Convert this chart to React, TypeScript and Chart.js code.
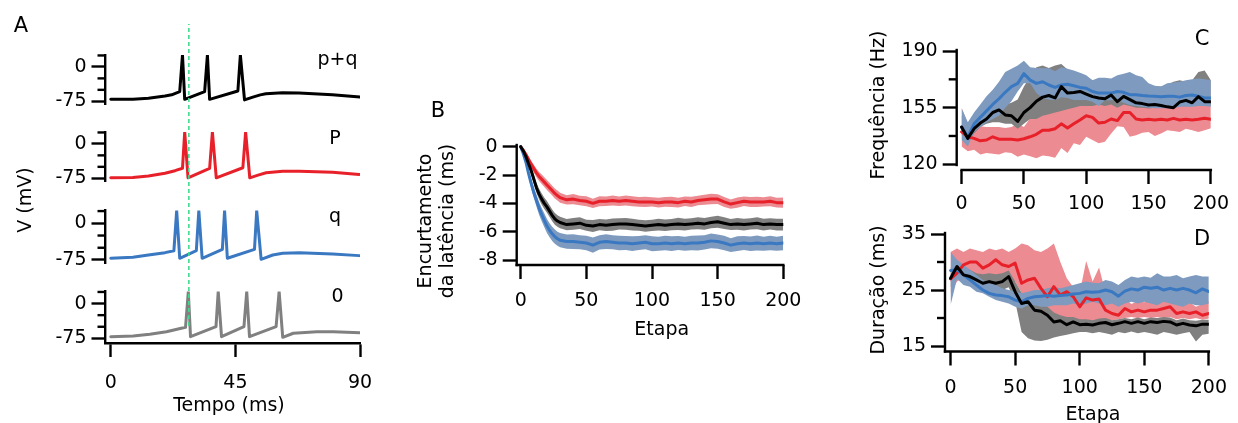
import React, { useEffect, useRef } from "react";
import { Chart, registerables } from "chart.js";
Chart.register(...registerables);

const W = 1238;
const H = 423;
const FONT = "'DejaVu Sans', 'Liberation Sans', sans-serif";
const FS = 19;
const LETTER_FS = 21;
const AX_W = 2.4;

const BLACK = "#000000";
const RED = "#e8202a";
const BLUE = "#3a78c1";
const GRAY = "#808080";
const RED_BAND = "#ec8b91";
const BLUE_BAND = "#7e9bbf";
const GRAY_BAND = "#808080";
const GREEN = "#3ddc8c";

// ---------------- Panel A: voltage traces ----------------
const A_X_TICKS = [0, 45, 90];
const A_Y_TICKS = [-75, 0];
const A_Y_MINOR = [25, -25, -50];
const GUIDE_TIME = 28.2;

const PQ_T = [0, 8, 13.6, 19.6, 22, 24.9, 25.9, 26.7, 33.9, 34.9, 35.7, 45.9, 46.8, 48.3, 51.3, 54, 56, 62, 68, 80, 90];
const PQ_V = [-70.7, -70.5, -68.5, -63.5, -60.8, -54, 26, -70.7, -54, 26, -70.7, -52.5, 26, -72, -65.9, -61, -58.6, -56.5, -57, -60.8, -65.9];

const P_T = [0, 8, 13.6, 19.6, 23.2, 25.9, 26.7, 27.9, 35.7, 36.7, 38.1, 47.7, 48.7, 50.2, 53.2, 56.1, 62.1, 68.1, 80.1, 89.7];
const P_V = [-74, -73.5, -70, -64, -58.4, -53.2, 26, -74, -53.2, 26, -74, -52, 26, -74, -68, -63, -59.5, -59.5, -61.6, -66.6];

const Q_T = [0, 8, 13.6, 19.6, 22.8, 23.8, 24.9, 30.9, 31.8, 33.0, 40.3, 41.1, 42.1, 51.9, 52.7, 54.3, 58.5, 62.1, 68.1, 80.1, 89.7];
const Q_V = [-71.5, -69.5, -64.8, -60, -56, 26, -71.5, -56, 26, -71.5, -53.2, 26, -71.5, -53.2, 26, -73.6, -64.8, -61.3, -60, -62.7, -66.1];

const Z_T = [0, 8.1, 14.1, 20.1, 27.0, 28.0, 28.8, 38.0, 38.8, 40.0, 48.1, 49.1, 50.1, 59.7, 60.8, 62.1, 65.9, 74.4, 80.4, 90];
const Z_V = [-71.4, -69.9, -66.3, -60.6, -51.2, 26, -71.4, -49.8, 26, -71.4, -49.8, 26, -71.4, -49.8, 26, -72.7, -64, -60.6, -60.6, -62.8];

// ---------------- Panel B: latency shortening ----------------
const STEP_TICKS = [0, 50, 100, 150, 200];
const B_Y_TICKS = [-8, -6, -4, -2, 0];
const B_X = [0, 2, 4, 6, 8, 10, 12, 14, 16, 18, 20, 22, 24, 26, 28, 30, 35, 40, 45, 50, 55, 60, 65, 70, 75, 80, 85, 90, 95, 100, 105, 110, 115, 120, 125, 130, 135, 140, 145, 150, 155, 160, 165, 170, 175, 180, 185, 190, 195, 200];
const B_RED = [0, -0.25, -0.55, -0.9, -1.25, -1.55, -1.85, -2.1, -2.3, -2.5, -2.7, -2.9, -3.1, -3.3, -3.45, -3.6, -3.75, -3.7, -3.8, -3.85, -4.0, -3.85, -3.85, -3.8, -3.85, -3.8, -3.85, -3.9, -3.9, -3.9, -3.95, -3.9, -3.9, -3.95, -3.85, -3.9, -3.8, -3.75, -3.7, -3.7, -3.9, -4.05, -3.95, -3.85, -3.9, -3.9, -3.9, -3.85, -3.95, -3.95];
const B_BLACK = [0, -0.3, -0.7, -1.2, -1.7, -2.3, -2.9, -3.35, -3.7, -4.0, -4.25, -4.55, -4.85, -5.1, -5.25, -5.35, -5.5, -5.45, -5.4, -5.55, -5.6, -5.5, -5.55, -5.5, -5.45, -5.45, -5.5, -5.55, -5.6, -5.55, -5.5, -5.55, -5.5, -5.45, -5.5, -5.45, -5.4, -5.45, -5.35, -5.3, -5.4, -5.5, -5.45, -5.5, -5.45, -5.4, -5.5, -5.45, -5.5, -5.5];
const B_BLUE = [0, -0.5, -1.1, -1.9, -2.6, -3.25, -3.8, -4.35, -4.8, -5.2, -5.6, -5.9, -6.15, -6.35, -6.5, -6.6, -6.7, -6.7, -6.75, -6.8, -6.95, -6.75, -6.7, -6.75, -6.8, -6.8, -6.85, -6.8, -6.75, -6.85, -6.85, -6.8, -6.85, -6.8, -6.85, -6.8, -6.8, -6.75, -6.65, -6.7, -6.8, -6.95, -6.85, -6.8, -6.85, -6.8, -6.85, -6.8, -6.85, -6.8];
const B_RED_ERR = [0, 0.08, 0.14, 0.2, 0.25, 0.28, 0.3, 0.32, 0.33, 0.34, 0.35, 0.35, 0.35, 0.35, 0.35, 0.35, 0.33, 0.36, 0.34, 0.35, 0.33, 0.36, 0.34, 0.35, 0.33, 0.36, 0.35, 0.34, 0.36, 0.33, 0.35, 0.34, 0.36, 0.35, 0.33, 0.36, 0.34, 0.35, 0.37, 0.34, 0.35, 0.33, 0.36, 0.34, 0.35, 0.36, 0.33, 0.35, 0.34, 0.36];
const B_BLACK_ERR = [0, 0.08, 0.15, 0.22, 0.28, 0.32, 0.36, 0.38, 0.4, 0.4, 0.41, 0.41, 0.41, 0.41, 0.41, 0.41, 0.4, 0.42, 0.41, 0.39, 0.42, 0.4, 0.41, 0.43, 0.4, 0.41, 0.42, 0.39, 0.41, 0.4, 0.42, 0.41, 0.4, 0.43, 0.41, 0.4, 0.42, 0.41, 0.4, 0.43, 0.41, 0.39, 0.42, 0.41, 0.4, 0.42, 0.41, 0.4, 0.42, 0.41];
const B_BLUE_ERR = [0, 0.1, 0.18, 0.26, 0.33, 0.38, 0.42, 0.45, 0.47, 0.49, 0.5, 0.5, 0.5, 0.5, 0.5, 0.5, 0.5, 0.52, 0.49, 0.51, 0.53, 0.5, 0.52, 0.49, 0.51, 0.5, 0.52, 0.5, 0.49, 0.53, 0.5, 0.51, 0.52, 0.5, 0.49, 0.51, 0.53, 0.5, 0.52, 0.5, 0.51, 0.49, 0.52, 0.5, 0.51, 0.53, 0.5, 0.52, 0.5, 0.51];

// ---------------- Panel C: frequency ----------------
const C_Y_TICKS = [120, 155, 190];
const C_Y_MINOR = [137.5, 172.5];
const CD_X = [0, 5, 10, 15, 20, 25, 30, 35, 40, 45, 50, 55, 60, 65, 70, 75, 80, 85, 90, 95, 100, 105, 110, 115, 120, 125, 130, 135, 140, 145, 150, 155, 160, 165, 170, 175, 180, 185, 190, 195, 200];
const C_BLUE = [143, 137, 145, 149, 153, 157, 160.5, 164.5, 168, 170, 176, 172, 170, 171, 169, 167.5, 169, 169.5, 168.5, 167.5, 167, 165, 164, 164, 164, 165, 164.5, 163, 163, 162.5, 162.2, 162, 161.8, 162, 162, 161.5, 162.5, 162.8, 162, 161, 161];
const C_BLUE_HI = [154.6, 146, 152, 157, 162, 166, 171, 177, 179, 181, 184, 180, 179.5, 179.3, 179.3, 177.5, 180, 179, 178, 176.5, 175, 172, 173.5, 173.5, 173, 175, 176, 177, 175, 174, 170, 168.5, 168, 170, 170.5, 171, 172, 172.5, 173, 172.5, 172];
const C_BLUE_LO = [135, 131, 140, 143, 146, 148, 150, 155, 159, 165, 170, 170, 164, 161, 160, 159.7, 161.5, 161, 159.7, 159.7, 159.7, 158.7, 156, 159.5, 159.5, 159.7, 158, 156.6, 156, 155.6, 155, 154.6, 154.6, 154.6, 154.6, 155.6, 155.6, 155.6, 156, 156, 155.6];
const C_BLACK = [143, 136, 142, 145.5, 148, 152, 153.6, 150.5, 150, 146.5, 152, 155, 159, 161.5, 162.5, 161, 168, 164, 164.3, 165, 163.4, 161.8, 161, 160.5, 162.8, 158.7, 162, 160, 158, 157.5, 156.6, 157, 156.3, 155.5, 155, 158.5, 159.5, 158, 161.8, 158.7, 158.7];
const C_GRAY_HI = [150, 143, 148, 151, 154, 157, 158, 157, 158, 160, 168, 174, 180, 181, 179.5, 181, 182, 178.5, 177, 175, 174, 172, 172, 171, 171, 172, 173, 172, 170, 169, 168, 168, 168, 169, 171, 172, 171, 172, 177, 178, 172];
const C_GRAY_LO = [138, 133, 139, 143, 145, 146, 146, 145, 145, 142, 145, 148, 148, 150, 151, 152, 153, 154, 155, 156, 156, 156, 157, 156, 157, 155, 157, 156, 155, 155, 154.5, 155, 155, 155, 155, 156, 156, 156, 157, 156, 156];
const C_RED = [140, 137, 136, 134.5, 135, 137, 135.5, 135.5, 135.5, 135, 135.8, 137, 138.5, 141, 141, 142, 145, 142.5, 145, 147.4, 150, 149, 145.5, 146, 148, 147, 152, 152, 148, 147.4, 147.8, 147.4, 147.8, 147.4, 148.4, 147.4, 147.8, 147.4, 147.8, 148.4, 147.8];
const C_RED_HI = [155, 145.3, 144.3, 143.5, 143, 143, 143, 142.5, 143, 145, 143, 148.4, 154.6, 152.5, 155, 157.7, 160, 161.8, 161, 160.8, 161.8, 162, 162, 161.5, 162, 162, 161.5, 162, 161.5, 161, 161, 160.5, 160.5, 160, 160, 160, 160, 160, 160, 160, 160];
const C_RED_LO = [131, 128, 129, 126, 127, 126.5, 126, 127.5, 127, 124.7, 126, 125, 123.7, 125.5, 125, 124, 130, 127, 133, 132, 137, 135, 133, 134, 139, 143.5, 143, 137, 138, 139.5, 140, 137.5, 139, 141, 140.5, 140, 142, 141, 140, 141, 142.2];

// ---------------- Panel D: duration ----------------
const D_Y_TICKS = [15, 25, 35];
const D_Y_MINOR = [20, 30];
const D_BLUE = [28.5, 28.6, 27.7, 26.8, 25.9, 25.0, 24.4, 24.1, 24.0, 23.8, 23.2, 22.9, 23.5, 23.8, 23.9, 24.0, 23.9, 24.0, 24.1, 24.3, 24.4, 24.7, 24.6, 24.7, 25.0, 24.7, 23.9, 24.8, 25.2, 25.0, 25.5, 25.3, 25.5, 25.0, 25.3, 25.0, 25.3, 25.0, 24.5, 25.2, 24.7];
const D_BLUE_HI = [31.8, 30.4, 29.5, 28.6, 27.7, 26.8, 26.2, 25.9, 25.3, 25.0, 24.7, 24.4, 24.7, 25.0, 25.0, 25.3, 25.5, 25.3, 25.6, 25.9, 26.2, 26.5, 26.3, 26.2, 26.8, 26.5, 25.9, 26.8, 27.4, 27.2, 27.4, 27.2, 28.0, 27.4, 27.4, 27.7, 27.1, 27.4, 27.7, 27.4, 27.4];
const D_BLUE_LO = [22.3, 27.0, 25.9, 25.6, 24.7, 24.4, 23.8, 23.2, 22.9, 22.6, 22.0, 21.7, 22.3, 22.3, 22.0, 22.0, 22.3, 22.3, 22.3, 22.6, 22.3, 22.6, 22.9, 22.6, 22.3, 22.6, 22.0, 22.6, 22.9, 22.6, 22.9, 22.6, 22.3, 22.9, 22.6, 22.3, 22.0, 22.6, 22.3, 22.3, 22.6];
const D_BLACK = [27.1, 29.2, 27.7, 27.4, 26.8, 26.2, 26.5, 26.2, 26.5, 27.4, 24.7, 22.6, 22.9, 21.4, 21.2, 20.5, 19.3, 19.5, 18.8, 19.3, 18.8, 18.9, 18.75, 19.05, 19.2, 18.8, 19.05, 19.35, 19.05, 19.35, 19.05, 19.35, 19.2, 19.4, 19.3, 18.75, 19.05, 18.75, 18.6, 18.9, 18.9];
const D_GRAY_HI = [29.0, 30.0, 29.0, 28.6, 28.0, 27.8, 28.0, 27.8, 28.0, 28.5, 26.5, 24.5, 24.0, 23.0, 22.5, 22.0, 21.0, 20.5, 20.2, 20.2, 19.8, 19.8, 19.6, 19.9, 20.0, 19.6, 19.8, 20.0, 19.8, 20.1, 19.8, 20.1, 20.0, 20.2, 20.1, 19.6, 19.9, 19.6, 19.5, 19.7, 19.7];
const D_GRAY_LO = [25.5, 27.5, 26.5, 26.0, 25.5, 25.0, 25.0, 24.8, 25.0, 25.5, 23.0, 17.5, 16.4, 16.0, 15.9, 16.1, 16.5, 16.8, 17.0, 17.3, 17.5, 17.5, 17.3, 17.5, 17.3, 17.0, 17.5, 17.3, 17.6, 17.3, 17.5, 17.3, 17.0, 17.5, 17.3, 17.0, 17.3, 17.5, 15.8, 17.0, 17.2];
const D_RED = [27, 28, 29.5, 30, 30, 28.9, 29.5, 30.4, 29.5, 29.2, 29.8, 26.2, 26.8, 27.1, 25.3, 23.8, 25.6, 24.1, 24.7, 23.8, 22, 23.6, 23.2, 23.4, 21.4, 20.8, 20.5, 21.7, 21.1, 21.4, 21.1, 21.4, 21.4, 21.7, 22, 20.8, 21.1, 20.8, 21.1, 20.5, 20.8];
const D_RED_HI = [31.8, 32.4, 31.8, 32.4, 32.1, 31.8, 32.4, 32.1, 32.4, 31.8, 32.4, 33.3, 33.0, 32.1, 31.8, 32.4, 33.3, 30.0, 27.1, 25.5, 24.5, 30.2, 26.5, 29.0, 24.5, 24.0, 23.2, 23.5, 22.5, 23.0, 22.8, 23.5, 22.5, 23.2, 23.0, 22.5, 23.0, 22.8, 22.0, 22.5, 23.0];
const D_RED_LO = [24.5, 26.5, 27.2, 27.0, 26.5, 26.2, 26.5, 26.5, 26.5, 26.2, 26.5, 24.5, 22.5, 21.5, 21.0, 20.5, 20.3, 20.0, 19.8, 19.5, 19.2, 19.0, 19.3, 19.6, 19.5, 19.6, 19.8, 20.0, 20.2, 20.0, 20.2, 20.0, 20.2, 20.0, 20.2, 19.8, 20.0, 19.8, 20.0, 19.7, 19.9];

// ---------------- helpers ----------------
const Y_W = 60;
const X_H = 60;

type Area = { left: number; top: number; right: number; bottom: number };
type AxisSpec = { min: number; max: number; ticks?: number[]; show: boolean; pad?: number };

const pts = (xs: number[], ys: number[]) => xs.map((x, i) => ({ x, y: ys[i] }));

const lineDs = (xs: number[], ys: number[], color: string, width: number) => ({
  data: pts(xs, ys),
  borderColor: color,
  borderWidth: width,
  pointRadius: 0,
  fill: false,
  tension: 0,
  borderJoinStyle: "round",
  borderCapStyle: "round",
});
const edgeDs = (xs: number[], ys: number[]) => ({
  data: pts(xs, ys),
  borderColor: "rgba(0,0,0,0)",
  borderWidth: 0,
  pointRadius: 0,
  fill: false,
  tension: 0,
});
const fillDs = (xs: number[], ys: number[], color: string) => ({
  ...edgeDs(xs, ys),
  fill: "-1",
  backgroundColor: color,
});
// list is bottom-to-top; lower `order` is drawn later (on top)
const stackOrder = (list: any[]) => list.map((d, i) => ({ ...d, order: list.length - i }));

const minorTicksPlugin = {
  id: "minorTicks",
  afterDraw(chart: any, _a: any, opts: any) {
    const vals = opts && opts.values;
    if (!vals || !vals.length) return;
    const { ctx, chartArea } = chart;
    const ys = chart.scales.y;
    ctx.save();
    ctx.strokeStyle = "#000";
    ctx.lineWidth = AX_W;
    for (const v of vals) {
      const p = ys.getPixelForValue(v);
      ctx.beginPath();
      ctx.moveTo(chartArea.left - 8, p);
      ctx.lineTo(chartArea.left, p);
      ctx.stroke();
    }
    ctx.restore();
  },
};

const spinesPlugin = {
  id: "spines",
  afterDraw(chart: any, _a: any, opts: any) {
    if (!opts || !opts.on) return;
    const { ctx, chartArea: ca, scales } = chart;
    ctx.save();
    ctx.strokeStyle = "#000";
    ctx.lineWidth = AX_W;
    ctx.lineCap = "square";
    const yEnd = opts.yFrom != null ? scales.y.getPixelForValue(opts.yFrom) : ca.bottom;
    ctx.beginPath();
    ctx.moveTo(ca.left, ca.top);
    ctx.lineTo(ca.left, yEnd);
    ctx.stroke();
    const xStart = opts.xFrom != null ? scales.x.getPixelForValue(opts.xFrom) : ca.left;
    ctx.beginPath();
    ctx.moveTo(xStart, ca.bottom);
    ctx.lineTo(ca.right, ca.bottom);
    ctx.stroke();
    ctx.restore();
  },
};

function makeConfig(area: Area, xs: AxisSpec, ys: AxisSpec, datasets: any[], extra: any, useBorders: { x: boolean; y: boolean }) {
  const yW = ys.show ? Y_W : 0;
  const xH = xs.show ? X_H : 0;
  const axis = (spec: AxisSpec, isX: boolean, border: boolean) => ({
    type: "linear",
    min: spec.min,
    max: spec.max,
    display: spec.show,
    afterBuildTicks: (s: any) => {
      if (spec.ticks) s.ticks = spec.ticks.map((v) => ({ value: v }));
    },
    afterFit: (s: any) => {
      if (isX) s.height = xH;
      else s.width = yW;
    },
    ticks: {
      color: "#000",
      font: { family: FONT, size: FS },
      padding: spec.pad != null ? spec.pad : 5,
      autoSkip: false,
      maxRotation: 0,
      minRotation: 0,
      callback: (v: any) => String(v),
    },
    grid: { drawOnChartArea: false, drawTicks: true, tickLength: 14, tickWidth: AX_W, tickColor: "#000", color: "rgba(0,0,0,0)" },
    border: { display: border, color: "#000", width: AX_W },
  });
  return {
    type: "line",
    data: { datasets },
    options: {
      responsive: false,
      maintainAspectRatio: false,
      animation: false,
      devicePixelRatio: 1,
      events: [],
      layout: {
        padding: { left: area.left - yW, top: area.top, right: W - area.right, bottom: H - area.bottom - xH },
      },
      scales: { x: axis(xs, true, useBorders.x), y: axis(ys, false, useBorders.y) },
      plugins: { legend: { display: false }, tooltip: { enabled: false }, ...extra },
    },
    plugins: [minorTicksPlugin, spinesPlugin],
  };
}

// ---------------- chart builders ----------------
const A_XMIN = -1.9;
const A_XMAX = 90;
const A_LEFT = 105.5;
const A_RIGHT = 360;

function traceConfig(t: number[], v: number[], color: string, top: number, bottom: number, ymin: number, withX: boolean) {
  return makeConfig(
    { left: A_LEFT, top, right: A_RIGHT, bottom },
    { min: A_XMIN, max: A_XMAX, ticks: A_X_TICKS, show: withX, pad: 15 },
    { min: ymin, max: 26, ticks: A_Y_TICKS, show: true },
    [lineDs(t, v, color, 3)],
    { minorTicks: { values: A_Y_MINOR } },
    { x: withX, y: true }
  );
}

function guideConfig() {
  return makeConfig(
    { left: A_LEFT, top: 24, right: A_RIGHT, bottom: 326 },
    { min: A_XMIN, max: A_XMAX, show: false },
    { min: 0, max: 1, show: false },
    [
      {
        data: [
          { x: GUIDE_TIME, y: 0 },
          { x: GUIDE_TIME, y: 1 },
        ],
        borderColor: GREEN,
        borderWidth: 1.6,
        borderDash: [4, 3],
        pointRadius: 0,
        fill: false,
      },
    ],
    {},
    { x: false, y: false }
  );
}

function bConfig() {
  const lo = (m: number[], e: number[]) => m.map((v, i) => v - e[i]);
  const hi = (m: number[], e: number[]) => m.map((v, i) => v + e[i]);
  const ds = stackOrder([
    edgeDs(B_X, lo(B_RED, B_RED_ERR)),
    fillDs(B_X, hi(B_RED, B_RED_ERR), RED_BAND),
    edgeDs(B_X, lo(B_BLACK, B_BLACK_ERR)),
    fillDs(B_X, hi(B_BLACK, B_BLACK_ERR), GRAY_BAND),
    edgeDs(B_X, lo(B_BLUE, B_BLUE_ERR)),
    fillDs(B_X, hi(B_BLUE, B_BLUE_ERR), BLUE_BAND),
    lineDs(B_X, B_RED, RED, 3),
    lineDs(B_X, B_BLUE, BLUE, 3),
    lineDs(B_X, B_BLACK, BLACK, 3),
  ]);
  return makeConfig(
    { left: 516.7, top: 145, right: 783.3, bottom: 265 },
    { min: -3.05, max: 200, ticks: STEP_TICKS, show: true, pad: 11 },
    { min: -8.353, max: 0.12, ticks: B_Y_TICKS, show: true },
    ds,
    { spines: { on: true } },
    { x: false, y: false }
  );
}

function cConfig() {
  const ds = stackOrder([
    edgeDs(CD_X, C_RED_LO),
    fillDs(CD_X, C_RED_HI, RED_BAND),
    edgeDs(CD_X, C_GRAY_LO),
    fillDs(CD_X, C_GRAY_HI, GRAY_BAND),
    edgeDs(CD_X, C_BLUE_LO),
    fillDs(CD_X, C_BLUE_HI, BLUE_BAND),
    lineDs(CD_X, C_RED, RED, 3),
    lineDs(CD_X, C_BLUE, BLUE, 3),
    lineDs(CD_X, C_BLACK, BLACK, 3),
  ]);
  return makeConfig(
    { left: 956.7, top: 50, right: 1216, bottom: 170 },
    { min: -3.93, max: 200, ticks: STEP_TICKS, show: true, pad: 9 },
    { min: 116.48, max: 190.62, ticks: C_Y_TICKS, show: true },
    ds,
    { spines: { on: true, yFrom: 119.57, xFrom: 0 }, minorTicks: { values: C_Y_MINOR } },
    { x: false, y: false }
  );
}

function dConfig() {
  const ds = stackOrder([
    edgeDs(CD_X, D_RED_LO),
    fillDs(CD_X, D_RED_HI, RED_BAND),
    edgeDs(CD_X, D_GRAY_LO),
    fillDs(CD_X, D_GRAY_HI, GRAY_BAND),
    edgeDs(CD_X, D_BLUE_LO),
    fillDs(CD_X, D_BLUE_HI, BLUE_BAND),
    lineDs(CD_X, D_RED, RED, 3),
    lineDs(CD_X, D_BLUE, BLUE, 3),
    lineDs(CD_X, D_BLACK, BLACK, 3),
  ]);
  return makeConfig(
    { left: 945, top: 233, right: 1216, bottom: 351.5 },
    { min: -4.3, max: 200, ticks: STEP_TICKS, show: true, pad: 11 },
    { min: 14.02, max: 35.18, ticks: D_Y_TICKS, show: true },
    ds,
    { spines: { on: true }, minorTicks: { values: D_Y_MINOR } },
    { x: false, y: false }
  );
}

function ChartCanvas({ make }: { make: () => any }) {
  const ref = useRef<HTMLCanvasElement>(null);
  useEffect(() => {
    const chart = new Chart(ref.current as HTMLCanvasElement, make());
    return () => chart.destroy();
  }, []);
  return (
    <canvas
      ref={ref}
      width={W}
      height={H}
      style={{ position: "absolute", left: 0, top: 0, width: W, height: H, pointerEvents: "none" }}
    />
  );
}

function Txt({ x, y, text, rot, size }: { x: number; y: number; text: string; rot?: boolean; size?: number }) {
  return (
    <div
      style={{
        position: "absolute",
        left: x,
        top: y,
        transform: `translate(-50%, -50%)${rot ? " rotate(-90deg)" : ""}`,
        fontFamily: FONT,
        fontSize: size || FS,
        lineHeight: 1,
        whiteSpace: "nowrap",
        color: "#000",
      }}
    >
      {text}
    </div>
  );
}

export default function App() {
  return (
    <div style={{ position: "absolute", left: 0, top: 0, width: W, height: H, background: "#fff", overflow: "hidden" }}>
      <ChartCanvas make={() => traceConfig(PQ_T, PQ_V, BLACK, 55, 104.5, -82, false)} />
      <ChartCanvas make={() => traceConfig(P_T, P_V, RED, 132, 181.5, -82, false)} />
      <ChartCanvas make={() => traceConfig(Q_T, Q_V, BLUE, 210.6, 263.4, -82, false)} />
      <ChartCanvas make={() => traceConfig(Z_T, Z_V, GRAY, 291.5, 343, -85, true)} />
      <ChartCanvas make={bConfig} />
      <ChartCanvas make={cConfig} />
      <ChartCanvas make={dConfig} />
      <ChartCanvas make={guideConfig} />

      <Txt x={21} y={24.7} text="A" size={LETTER_FS} />
      <Txt x={337.5} y={58.4} text="p+q" />
      <Txt x={335} y={136.7} text="P" />
      <Txt x={335} y={215.1} text="q" />
      <Txt x={337.5} y={295.1} text="0" />
      <Txt x={23.9} y={199.5} text="V (mV)" rot />
      <Txt x={229} y={404.1} text="Tempo (ms)" />

      <Txt x={438} y={109.5} text="B" size={LETTER_FS} />
      <Txt x={424.4} y={220.8} text="Encurtamento" rot />
      <Txt x={445.9} y={220.8} text="da latência (ms)" rot />
      <Txt x={661.7} y={328.4} text="Etapa" />

      <Txt x={1202} y={37.7} text="C" size={LETTER_FS} />
      <Txt x={877.4} y={105} text="Frequência (Hz)" rot />

      <Txt x={1202} y={237.7} text="D" size={LETTER_FS} />
      <Txt x={877} y={290} text="Duração (ms)" rot />
      <Txt x={1093} y={413.2} text="Etapa" />
    </div>
  );
}
